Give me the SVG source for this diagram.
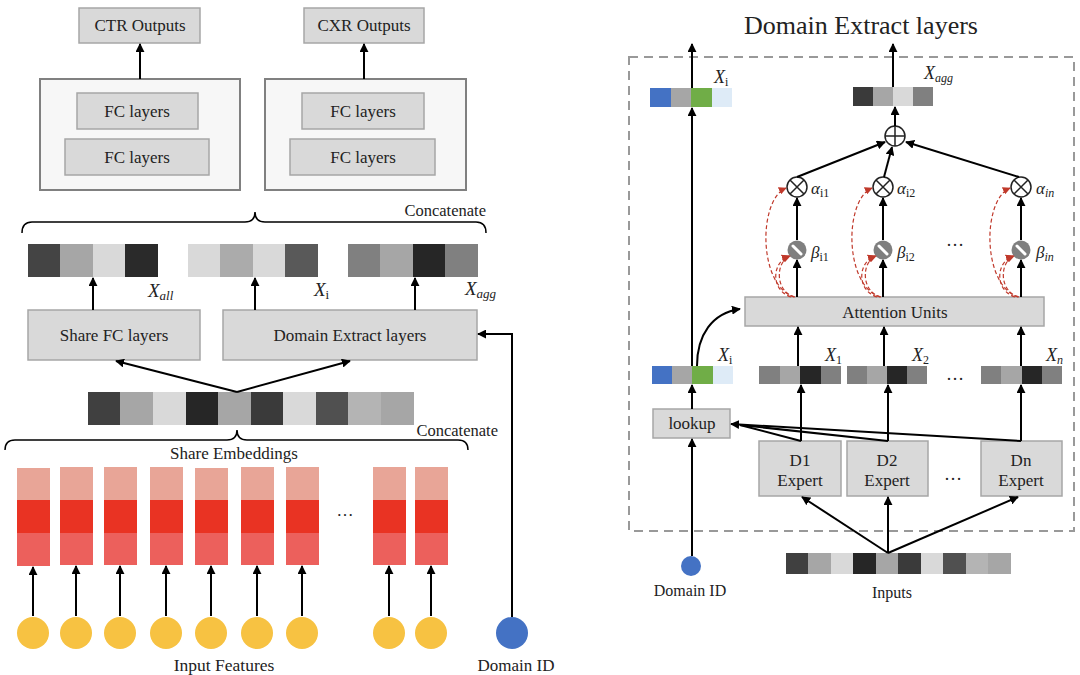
<svg xmlns="http://www.w3.org/2000/svg" width="1080" height="675" viewBox="0 0 1080 675">
<defs>
<marker id="ah" viewBox="0 0 10 10" refX="9" refY="5" markerWidth="9" markerHeight="9" markerUnits="userSpaceOnUse" orient="auto"><path d="M0,0 L10,5 L0,10 z" fill="#000"/></marker>
<marker id="ahr" viewBox="0 0 10 10" refX="9" refY="5" markerWidth="8" markerHeight="8" markerUnits="userSpaceOnUse" orient="auto"><path d="M0,0 L10,5 L0,10 z" fill="#c0392b"/></marker>
<style>
.t{font-family:"Liberation Serif","Times New Roman",serif;fill:#222;}
.m{font-family:"Liberation Serif","Times New Roman",serif;font-style:italic;fill:#222;}
.box{fill:#d9d9d9;stroke:#a6a6a6;stroke-width:1.5;}
.obox{fill:#f7f7f7;stroke:#808080;stroke-width:2;}
.ar{stroke:#000;stroke-width:2;fill:none;marker-end:url(#ah);}
.ln{stroke:#000;stroke-width:2;fill:none;}
.br{stroke:#000;stroke-width:1.5;fill:none;}
.rd{stroke:#c0392b;stroke-width:1.2;stroke-dasharray:4,2.5;fill:none;marker-end:url(#ahr);}
.c1{fill:#e8a597;}.c2{fill:#e93323;}.c3{fill:#ec605c;}
</style>
</defs>
<rect width="1080" height="675" fill="#fff"/>

<!-- LEFT: top -->
<g id="ctr-out"><rect class="box" x="79" y="8" width="121" height="35"/><text class="t" x="140" y="31" font-size="17" text-anchor="middle">CTR Outputs</text></g>
<g id="cxr-out"><rect class="box" x="304" y="8" width="120" height="35"/><text class="t" x="364" y="31" font-size="17" text-anchor="middle">CXR Outputs</text></g>
<g id="ctr-tower"><rect class="obox" x="40" y="79" width="200" height="111"/>
<rect class="box" x="77" y="93" width="121" height="36"/><text class="t" x="137" y="117" font-size="17" text-anchor="middle">FC layers</text>
<rect class="box" x="65" y="139" width="144" height="36"/><text class="t" x="137" y="163" font-size="17" text-anchor="middle">FC layers</text></g>
<g id="cxr-tower"><rect class="obox" x="265" y="79" width="201" height="111"/>
<rect class="box" x="302" y="93" width="122" height="36"/><text class="t" x="363" y="117" font-size="17" text-anchor="middle">FC layers</text>
<rect class="box" x="290" y="139" width="145" height="36"/><text class="t" x="363" y="163" font-size="17" text-anchor="middle">FC layers</text></g>

<g id="concat-top">
<path class="br" d="M22,233 Q22,222 32,222 L245,222 Q255,222 255,212 Q255,222 265,222 L476,222 Q486,222 486,233"/>
<text class="t" x="486" y="216" font-size="16.5" text-anchor="end">Concatenate</text></g>

<g id="x-all"><rect x="28" y="244" width="33" height="33" fill="#444"/><rect x="60" y="244" width="33" height="33" fill="#a6a6a6"/><rect x="93" y="244" width="32" height="33" fill="#d9d9d9"/><rect x="125" y="244" width="33" height="33" fill="#2a2a2a"/>
<text class="m" x="148" y="297" font-size="19">X<tspan font-size="13" dy="3">all</tspan></text></g>
<g id="x-i-left"><rect x="188" y="244" width="33" height="33" fill="#d9d9d9"/><rect x="220" y="244" width="33" height="33" fill="#ababab"/><rect x="253" y="244" width="32" height="33" fill="#d9d9d9"/><rect x="285" y="244" width="33" height="33" fill="#595959"/>
<text class="m" x="314" y="296" font-size="19">X<tspan font-style="normal" font-size="13" dy="3">i</tspan></text></g>
<g id="x-agg-left"><rect x="348" y="244" width="33" height="33" fill="#808080"/><rect x="380" y="244" width="33" height="33" fill="#a6a6a6"/><rect x="413" y="244" width="32" height="33" fill="#262626"/><rect x="445" y="244" width="33" height="33" fill="#808080"/>
<text class="m" x="465" y="295" font-size="19">X<tspan font-size="13" dy="3">agg</tspan></text></g>

<g id="share-fc"><rect class="box" x="28" y="310" width="172" height="50"/><text class="t" x="114" y="341" font-size="17" text-anchor="middle">Share FC layers</text></g>
<g id="domain-extract"><rect class="box" x="223" y="310" width="254" height="50"/><text class="t" x="350" y="341" font-size="17" text-anchor="middle">Domain Extract layers</text></g>

<g id="concat-vec">
<rect x="88" y="392" width="33" height="33" fill="#404040"/><rect x="120" y="392" width="33" height="33" fill="#a6a6a6"/><rect x="153" y="392" width="33" height="33" fill="#d9d9d9"/><rect x="186" y="392" width="33" height="33" fill="#262626"/><rect x="218" y="392" width="33" height="33" fill="#a6a6a6"/><rect x="251" y="392" width="33" height="33" fill="#3a3a3a"/><rect x="283" y="392" width="33" height="33" fill="#d9d9d9"/><rect x="316" y="392" width="33" height="33" fill="#505050"/><rect x="348" y="392" width="33" height="33" fill="#b4b4b4"/><rect x="381" y="392" width="33" height="33" fill="#a6a6a6"/>
</g>
<g id="concat-bottom">
<path class="br" d="M5,450 Q5,440 15,440 L227,440 Q237,440 237,430 Q237,440 247,440 L458,440 Q468,440 468,450"/>
<text class="t" x="498" y="436" font-size="16.5" text-anchor="end">Concatenate</text>
<text class="t" x="234" y="459" font-size="17" text-anchor="middle">Share Embeddings</text></g>

<g id="embeddings">
<g><rect class="c1" x="17" y="468" width="33" height="33"/><rect class="c2" x="17" y="500" width="33" height="33"/><rect class="c3" x="17" y="533" width="33" height="33"/></g>
<g><rect class="c1" x="60" y="467" width="33" height="34"/><rect class="c2" x="60" y="500" width="33" height="33"/><rect class="c3" x="60" y="533" width="33" height="32"/></g>
<g><rect class="c1" x="104" y="467" width="33" height="34"/><rect class="c2" x="104" y="500" width="33" height="33"/><rect class="c3" x="104" y="533" width="33" height="32"/></g>
<g><rect class="c1" x="150" y="467" width="33" height="34"/><rect class="c2" x="150" y="500" width="33" height="33"/><rect class="c3" x="150" y="533" width="33" height="32"/></g>
<g><rect class="c1" x="195" y="468" width="33" height="33"/><rect class="c2" x="195" y="500" width="33" height="33"/><rect class="c3" x="195" y="533" width="33" height="32"/></g>
<g><rect class="c1" x="241" y="467" width="33" height="34"/><rect class="c2" x="241" y="500" width="33" height="33"/><rect class="c3" x="241" y="533" width="33" height="32"/></g>
<g><rect class="c1" x="286" y="467" width="33" height="34"/><rect class="c2" x="286" y="500" width="33" height="33"/><rect class="c3" x="286" y="533" width="33" height="32"/></g>
<g><rect class="c1" x="373" y="467" width="33" height="34"/><rect class="c2" x="373" y="500" width="33" height="33"/><rect class="c3" x="373" y="533" width="33" height="32"/></g>
<g><rect class="c1" x="415" y="467" width="33" height="34"/><rect class="c2" x="415" y="500" width="33" height="33"/><rect class="c3" x="415" y="533" width="33" height="32"/></g>
<text class="t" x="345" y="516" font-size="17" text-anchor="middle">…</text>
</g>

<g id="input-features" fill="#f7c242">
<circle cx="33" cy="633" r="16"/><circle cx="76" cy="633" r="16"/><circle cx="120" cy="633" r="16"/><circle cx="166" cy="633" r="16"/><circle cx="211" cy="633" r="16"/><circle cx="257" cy="633" r="16"/><circle cx="302" cy="633" r="16"/><circle cx="389" cy="633" r="16"/><circle cx="431" cy="633" r="16"/>
<text class="t" x="224" y="671" font-size="17.5" text-anchor="middle">Input Features</text></g>
<g id="domain-id-left"><circle cx="512" cy="633" r="16" fill="#4472c4"/><text class="t" x="516" y="671" font-size="17" text-anchor="middle">Domain ID</text></g>

<g id="left-connectors">
<line class="ar" x1="140" y1="79" x2="140" y2="44"/>
<line class="ar" x1="364" y1="79" x2="364" y2="44"/>
<line class="ar" x1="93" y1="310" x2="93" y2="278"/>
<line class="ar" x1="255" y1="310" x2="255" y2="278"/>
<line class="ar" x1="415" y1="310" x2="415" y2="278"/>
<line class="ar" x1="237" y1="392" x2="116" y2="361"/>
<line class="ar" x1="237" y1="392" x2="350" y2="361"/>
<path class="ar" d="M512,617 L512,334 L478,334"/>
<line class="ar" x1="33" y1="616" x2="33" y2="567"/>
<line class="ar" x1="76" y1="616" x2="76" y2="566"/>
<line class="ar" x1="120" y1="616" x2="120" y2="566"/>
<line class="ar" x1="166" y1="616" x2="166" y2="566"/>
<line class="ar" x1="211" y1="616" x2="211" y2="566"/>
<line class="ar" x1="257" y1="616" x2="257" y2="566"/>
<line class="ar" x1="302" y1="616" x2="302" y2="566"/>
<line class="ar" x1="389" y1="616" x2="389" y2="566"/>
<line class="ar" x1="431" y1="616" x2="431" y2="566"/>
</g>

<!-- RIGHT -->
<text class="t" x="861" y="34" font-size="26" text-anchor="middle" fill="#111">Domain Extract layers</text>
<rect x="629" y="57" width="445" height="474" fill="none" stroke="#999" stroke-width="2" stroke-dasharray="9,6"/>

<g id="x-i-top"><rect x="650" y="88" width="21" height="19" fill="#4472c4"/><rect x="671" y="88" width="20" height="19" fill="#a6a6a6"/><rect x="691" y="88" width="21" height="19" fill="#70ad47"/><rect x="712" y="88" width="20" height="19" fill="#deebf7"/>
<text class="m" x="714" y="83" font-size="18">X<tspan font-style="normal" font-size="12" dy="3">i</tspan></text></g>
<g id="x-agg-top"><rect x="853" y="87" width="20" height="19" fill="#3a3a3a"/><rect x="873" y="87" width="20" height="19" fill="#a6a6a6"/><rect x="893" y="87" width="20" height="19" fill="#d9d9d9"/><rect x="913" y="87" width="20" height="19" fill="#808080"/>
<text class="m" x="924" y="79" font-size="18">X<tspan font-size="12" dy="3">agg</tspan></text></g>

<g id="oplus"><circle cx="895" cy="136" r="10" fill="#fff" stroke="#222" stroke-width="1.5"/><path d="M885,136 H905 M895,126 V146" stroke="#222" stroke-width="1.5"/></g>

<g id="otimes-1"><circle cx="797" cy="187" r="10" fill="#fff" stroke="#222" stroke-width="1.5"/><path d="M790,180 L804,194 M804,180 L790,194" stroke="#222" stroke-width="1.5"/>
<text class="m" x="811" y="194" font-size="17">α<tspan font-style="normal" font-size="12" dy="3">i1</tspan></text></g>
<g id="otimes-2"><circle cx="883" cy="187" r="10" fill="#fff" stroke="#222" stroke-width="1.5"/><path d="M876,180 L890,194 M890,180 L876,194" stroke="#222" stroke-width="1.5"/>
<text class="m" x="897" y="194" font-size="17">α<tspan font-style="normal" font-size="12" dy="3">i2</tspan></text></g>
<g id="otimes-n"><circle cx="1021" cy="187" r="10" fill="#fff" stroke="#222" stroke-width="1.5"/><path d="M1014,180 L1028,194 M1028,180 L1014,194" stroke="#222" stroke-width="1.5"/>
<text class="m" x="1036" y="194" font-size="17">α<tspan font-size="12" dy="3">in</tspan></text></g>

<g id="beta-1"><circle cx="797" cy="250" r="9.5" fill="#7f7f7f"/><line x1="793" y1="246" x2="801" y2="254" stroke="#fff" stroke-width="3" stroke-linecap="round"/>
<text class="m" x="811" y="258" font-size="17">β<tspan font-style="normal" font-size="12" dy="3">i1</tspan></text></g>
<g id="beta-2"><circle cx="883" cy="250" r="9.5" fill="#7f7f7f"/><line x1="879" y1="246" x2="887" y2="254" stroke="#fff" stroke-width="3" stroke-linecap="round"/>
<text class="m" x="897" y="258" font-size="17">β<tspan font-style="normal" font-size="12" dy="3">i2</tspan></text></g>
<g id="beta-n"><circle cx="1021" cy="250" r="9.5" fill="#7f7f7f"/><line x1="1017" y1="246" x2="1025" y2="254" stroke="#fff" stroke-width="3" stroke-linecap="round"/>
<text class="m" x="1036" y="258" font-size="17">β<tspan font-size="12" dy="3">in</tspan></text></g>
<text class="t" x="955" y="246" font-size="18" text-anchor="middle">…</text>

<g id="attention"><rect class="box" x="745" y="297" width="299" height="29"/><text class="t" x="895" y="318" font-size="17" text-anchor="middle">Attention Units</text></g>

<g id="x-i-low"><rect x="652" y="366" width="20" height="18" fill="#4472c4"/><rect x="672" y="366" width="20" height="18" fill="#a6a6a6"/><rect x="692" y="366" width="21" height="18" fill="#70ad47"/><rect x="713" y="366" width="20" height="18" fill="#deebf7"/>
<text class="m" x="718" y="361" font-size="18">X<tspan font-style="normal" font-size="12" dy="3">i</tspan></text></g>
<g id="x-1"><rect x="759" y="366" width="21" height="18" fill="#808080"/><rect x="780" y="366" width="20" height="18" fill="#a6a6a6"/><rect x="800" y="366" width="21" height="18" fill="#262626"/><rect x="821" y="366" width="20" height="18" fill="#808080"/>
<text class="m" x="825" y="361" font-size="18">X<tspan font-style="normal" font-size="12" dy="3">1</tspan></text></g>
<g id="x-2"><rect x="847" y="366" width="20" height="18" fill="#808080"/><rect x="867" y="366" width="20" height="18" fill="#a6a6a6"/><rect x="887" y="366" width="20" height="18" fill="#262626"/><rect x="907" y="366" width="20" height="18" fill="#808080"/>
<text class="m" x="912" y="361" font-size="18">X<tspan font-style="normal" font-size="12" dy="3">2</tspan></text></g>
<g id="x-n"><rect x="981" y="366" width="20" height="18" fill="#808080"/><rect x="1001" y="366" width="21" height="18" fill="#a6a6a6"/><rect x="1022" y="366" width="20" height="18" fill="#262626"/><rect x="1042" y="366" width="20" height="18" fill="#808080"/>
<text class="m" x="1046" y="361" font-size="18">X<tspan font-size="12" dy="3">n</tspan></text></g>
<text class="t" x="955" y="380" font-size="18" text-anchor="middle">…</text>

<g id="lookup"><rect class="box" x="653" y="409" width="77" height="29"/><text class="t" x="692" y="429" font-size="17" text-anchor="middle">lookup</text></g>
<g id="d1"><rect class="box" x="759" y="441" width="82" height="55"/><text class="t" x="800" y="466" font-size="17" text-anchor="middle">D1</text><text class="t" x="800" y="486" font-size="17" text-anchor="middle">Expert</text></g>
<g id="d2"><rect class="box" x="847" y="441" width="81" height="55"/><text class="t" x="887" y="466" font-size="17" text-anchor="middle">D2</text><text class="t" x="887" y="486" font-size="17" text-anchor="middle">Expert</text></g>
<g id="dn"><rect class="box" x="981" y="441" width="81" height="55"/><text class="t" x="1021" y="466" font-size="17" text-anchor="middle">Dn</text><text class="t" x="1021" y="486" font-size="17" text-anchor="middle">Expert</text></g>
<text class="t" x="953" y="480" font-size="18" text-anchor="middle">…</text>

<g id="inputs">
<rect x="786" y="553" width="23" height="21" fill="#404040"/><rect x="808" y="553" width="23" height="21" fill="#a6a6a6"/><rect x="831" y="553" width="23" height="21" fill="#d9d9d9"/><rect x="853" y="553" width="23" height="21" fill="#262626"/><rect x="876" y="553" width="23" height="21" fill="#a6a6a6"/><rect x="898" y="553" width="23" height="21" fill="#3a3a3a"/><rect x="921" y="553" width="23" height="21" fill="#d9d9d9"/><rect x="943" y="553" width="23" height="21" fill="#505050"/><rect x="966" y="553" width="23" height="21" fill="#b4b4b4"/><rect x="988" y="553" width="23" height="21" fill="#a6a6a6"/>
<text class="t" x="892" y="598" font-size="16" text-anchor="middle">Inputs</text></g>
<g id="domain-id-right"><circle cx="691" cy="566" r="10" fill="#4472c4"/><text class="t" x="690" y="596" font-size="16" text-anchor="middle">Domain ID</text></g>

<g id="right-connectors">
<line class="ar" x1="692" y1="88" x2="692" y2="44"/>
<line class="ar" x1="692" y1="366" x2="692" y2="108"/>
<line class="ar" x1="893" y1="87" x2="893" y2="44"/>
<line class="ar" x1="895" y1="126" x2="895" y2="107"/>
<line class="ar" x1="797" y1="177" x2="885" y2="142"/>
<line class="ar" x1="884" y1="177" x2="892" y2="147"/>
<line class="ar" x1="1019" y1="177" x2="906" y2="142"/>
<line class="ar" x1="797" y1="240" x2="797" y2="198"/>
<line class="ar" x1="883" y1="240" x2="883" y2="198"/>
<line class="ar" x1="1021" y1="240" x2="1021" y2="198"/>
<line class="ar" x1="797" y1="297" x2="797" y2="260"/>
<line class="ar" x1="883" y1="297" x2="883" y2="260"/>
<line class="ar" x1="1021" y1="297" x2="1021" y2="260"/>
<line class="ar" x1="798" y1="366" x2="798" y2="327"/>
<line class="ar" x1="884" y1="366" x2="884" y2="327"/>
<line class="ar" x1="1021" y1="366" x2="1021" y2="327"/>
<path class="ar" d="M697,366 C697,335 712,313 740,309"/>
<line class="ar" x1="692" y1="409" x2="692" y2="385"/>
<line class="ar" x1="692" y1="556" x2="692" y2="439"/>
<line class="ar" x1="801" y1="441" x2="801" y2="385"/>
<line class="ar" x1="888" y1="441" x2="888" y2="385"/>
<line class="ar" x1="1021" y1="441" x2="1021" y2="385"/>
<line class="ln" x1="801" y1="441" x2="740" y2="425"/>
<line class="ln" x1="888" y1="441" x2="740" y2="425"/>
<line class="ar" x1="1021" y1="441" x2="731" y2="424"/>
<line class="ar" x1="888" y1="553" x2="802" y2="497"/>
<line class="ar" x1="888" y1="553" x2="888" y2="497"/>
<line class="ar" x1="888" y1="553" x2="1018" y2="497"/>
<path class="rd" d="M794,297 C758,285 758,200 786,188"/>
<path class="rd" d="M795,297 C775,292 775,262 790,256"/>
<path class="rd" d="M791,297 C770,290 772,262 789,256"/>
<path class="rd" d="M880,297 C844,285 844,200 872,188"/>
<path class="rd" d="M881,297 C861,292 861,262 876,256"/>
<path class="rd" d="M877,297 C856,290 858,262 875,256"/>
<path class="rd" d="M1018,297 C982,285 982,200 1010,188"/>
<path class="rd" d="M1019,297 C999,292 999,262 1014,256"/>
<path class="rd" d="M1015,297 C994,290 996,262 1013,256"/>
</g>
</svg>
